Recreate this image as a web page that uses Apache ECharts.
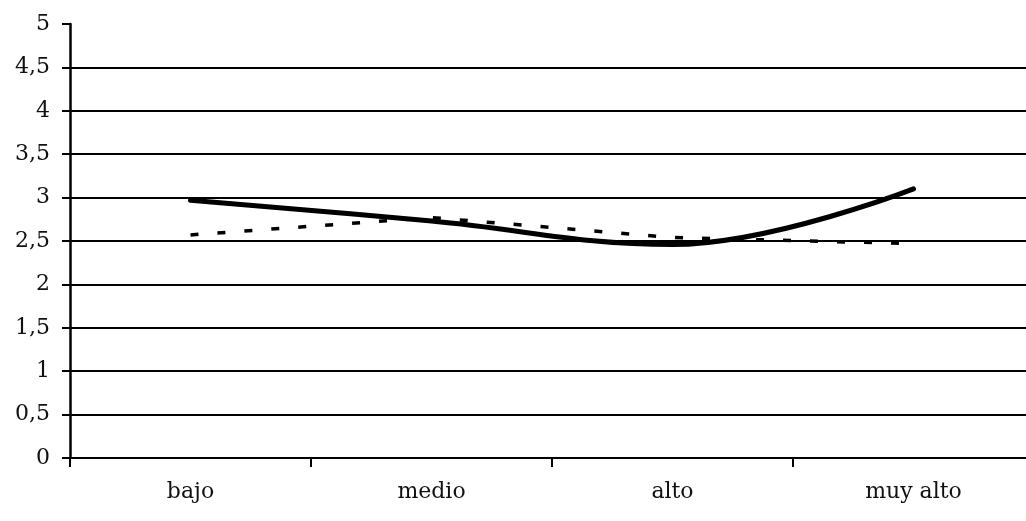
<!DOCTYPE html>
<html>
<head>
<meta charset="utf-8">
<script src="https://cdn.jsdelivr.net/npm/echarts@6/dist/echarts.min.js"></script>
<style>
  html, body { margin: 0; padding: 0; background: #fff; }
  #chart { width: 1026px; height: 521px; }
</style>
</head>
<body>
<div id="chart"></div>
<script>
const categories = ['bajo', 'medio', 'alto', 'muy alto'];
const solidValues = [2.97, 2.73, 2.46, 3.1];
const dottedValues = [2.57, 2.77, 2.54, 2.47];

const chart = echarts.init(document.getElementById('chart'));

const labelFont = {
  color: '#111',
  fontFamily: '"DejaVu Serif", "Liberation Serif", serif',
  fontSize: 22
};

const option = {
  backgroundColor: '#fff',
  animation: false,
  grid: {
    left: 70,
    top: 24,
    right: -8,
    bottom: 63,
    outerBoundsMode: 'none'
  },
  xAxis: {
    type: 'category',
    data: categories,
    boundaryGap: true,
    axisLine: { lineStyle: { color: '#000', width: 2 } },
    axisTick: { show: true, length: 9, lineStyle: { color: '#000', width: 2 } },
    axisLabel: Object.assign({ margin: 23 }, labelFont),
    splitLine: { show: false }
  },
  yAxis: {
    type: 'value',
    min: 0,
    max: 5,
    interval: 0.5,
    axisLine: { show: true, lineStyle: { color: '#000', width: 2.5 } },
    axisTick: { show: true, length: 8, lineStyle: { color: '#000', width: 2 } },
    axisLabel: Object.assign({
      margin: 20,
      formatter: v => String(v).replace('.', ',')
    }, labelFont),
    splitLine: {
      show: true,
      showMaxLine: false,
      lineStyle: { color: '#000', width: 2 }
    }
  },
  series: [
    {
      name: 'serie 1',
      type: 'line',
      data: solidValues,
      smooth: 0.4,
      showSymbol: false,
      lineStyle: { color: '#000', width: 5, cap: 'round' },
      z: 3
    },
    {
      name: 'serie 2',
      type: 'line',
      data: dottedValues,
      showSymbol: false,
      lineStyle: { color: '#000', width: 3.5, type: [8, 19] },
      z: 2
    }
  ]
};

chart.setOption(option);
</script>
</body>
</html>
